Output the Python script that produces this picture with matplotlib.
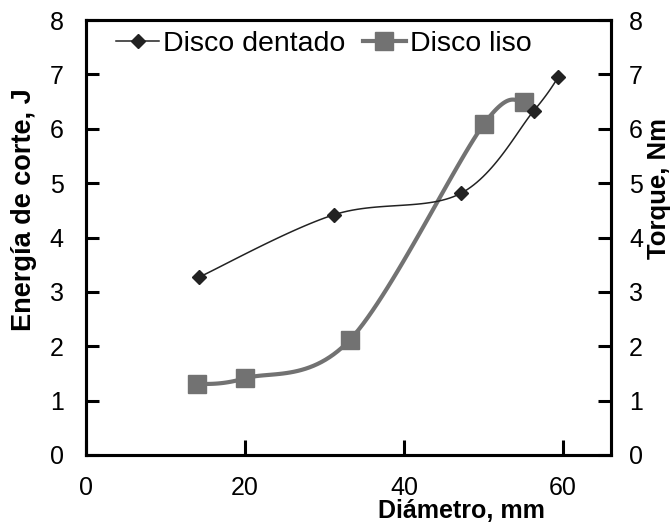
import numpy as np
import matplotlib
matplotlib.use("Agg")
import matplotlib.pyplot as plt

plt.rcParams['font.family'] = ['Liberation Sans', 'DejaVu Sans']

# data
dentado_x = [14.2, 31.2, 47.1, 56.3, 59.4]
dentado_y = [3.27, 4.42, 4.81, 6.33, 6.95]
liso_x = [14.0, 20.0, 33.2, 50.0, 55.1]
liso_y = [1.30, 1.41, 2.12, 6.08, 6.50]

x_ticks = [0, 20, 40, 60]
y_ticks = [0, 1, 2, 3, 4, 5, 6, 7, 8]


def smooth(xs, ys, n=30):
    # Excel-like smoothed line: cubic Bezier with Catmull-Rom control points
    p = np.column_stack([xs, ys]).astype(float)
    out = []
    for i in range(len(p) - 1):
        p0 = p[i - 1] if i > 0 else p[i]
        p1 = p[i]
        p2 = p[i + 1]
        p3 = p[i + 2] if i + 2 < len(p) else p[i + 1]
        c1 = p1 + (p2 - p0) / 6.0
        c2 = p2 - (p3 - p1) / 6.0
        t = np.linspace(0, 1, n)[:, None]
        seg = ((1 - t) ** 3) * p1 + 3 * ((1 - t) ** 2) * t * c1 + 3 * (1 - t) * t ** 2 * c2 + t ** 3 * p2
        out.append(seg if i == 0 else seg[1:])
    seg = np.vstack(out)
    return seg[:, 0], seg[:, 1]


fig, ax = plt.subplots(figsize=(6.72, 5.29), dpi=100)
fig.subplots_adjust(left=0.128, right=0.909, top=0.962, bottom=0.140)

gray = '#727272'
sx, sy = smooth(liso_x, liso_y)
ax.plot(sx, sy, color=gray, lw=3.0, zorder=2)
ax.plot(liso_x, liso_y, 's', color=gray, ms=13, zorder=3)
ax.plot([], [], '-s', color=gray, lw=3.0, ms=13, label='Disco liso')

dx, dy = smooth(dentado_x, dentado_y)
ax.plot(dx, dy, color='#222222', lw=1.1, zorder=4)
ax.plot(dentado_x, dentado_y, 'D', color='#222222', ms=7, zorder=5)
ax.plot([], [], '-D', color='#222222', lw=1.1, ms=7, label='Disco dentado')

ax.set_xlim(0, 66)
ax.set_ylim(0, 8)
ax.set_xticks(x_ticks)
ax.set_yticks(y_ticks)
ax.tick_params(direction='in', length=9.5, width=2.2, labelsize=18, pad=16)
ax.tick_params(axis='x', length=11, pad=15)
for s in ax.spines.values():
    s.set_linewidth(2.2)

ax2 = ax.twinx()
ax2.set_ylim(0, 8)
ax2.set_yticks(y_ticks)
ax2.tick_params(direction='in', length=9.5, width=2.2, labelsize=18, pad=13)
for s in ax2.spines.values():
    s.set_linewidth(2.2)

fig.text(461 / 672, 1 - 511 / 529, 'Diámetro, mm', fontsize=18, fontweight='bold',
         ha='center', va='center')
fig.text(24 / 672, 1 - 210 / 529, 'Energía de corte, J', fontsize=19.5, fontweight='bold',
         ha='center', va='center', rotation=90)
fig.text(659 / 672, 1 - 188 / 529, 'Torque, Nm', fontsize=18.5, fontweight='bold',
         ha='center', va='center', rotation=90)

h, l = ax.get_legend_handles_labels()
ax.legend(h[::-1], l[::-1], ncol=2, loc='upper left', bbox_to_anchor=(0.02, 1.02),
          frameon=False, fontsize=20.5, handlelength=1.5, handletextpad=0.15,
          columnspacing=0.6, borderpad=0.2)

fig.savefig('out.png', dpi=100)
